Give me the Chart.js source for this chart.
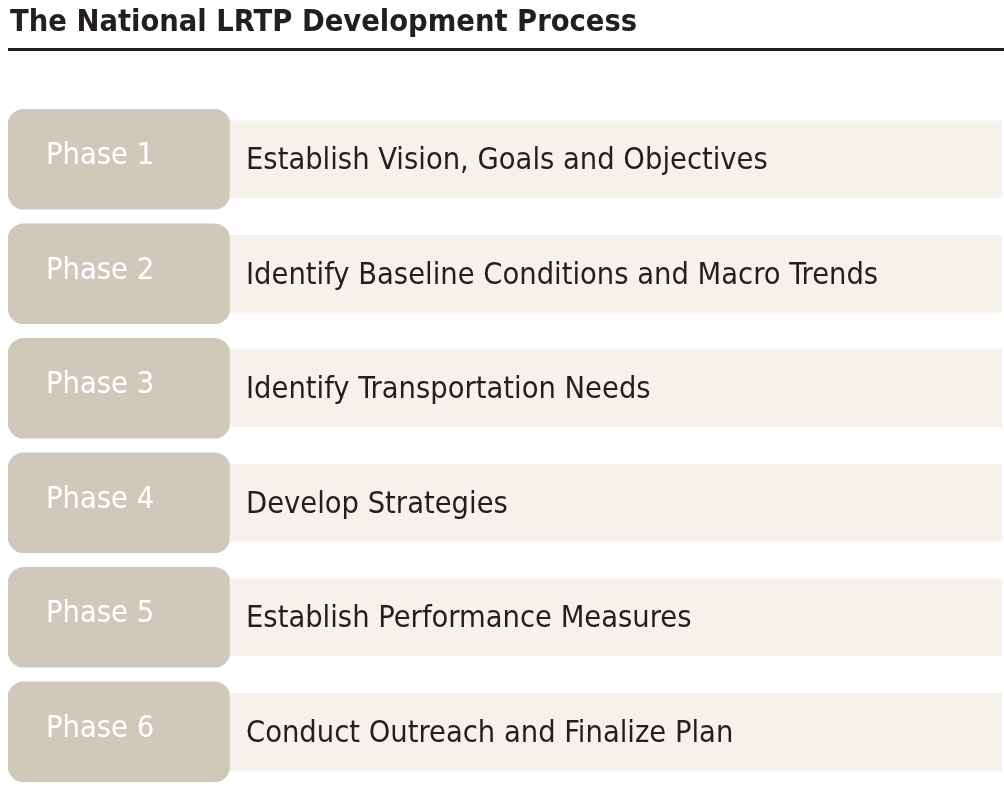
<!DOCTYPE html>
<html>
<head>
<meta charset="utf-8">
<script src="https://cdn.jsdelivr.net/npm/chart.js@4"></script>
<style>
  html, body { margin: 0; padding: 0; background: #fff; }
  #wrap { width: 1004px; height: 789px; }
</style>
</head>
<body>
<div id="wrap"><canvas id="chart" width="1004" height="789"></canvas></div>
<script>
const title = "The National LRTP Development Process";
const phases = ["Phase 1", "Phase 2", "Phase 3", "Phase 4", "Phase 5", "Phase 6"];
const steps = [
    "Establish Vision, Goals and Objectives",
    "Identify Baseline Conditions and Macro Trends",
    "Identify Transportation Needs",
    "Develop Strategies",
    "Establish Performance Measures",
    "Conduct Outreach and Finalize Plan"
];
const phaseSpan = [0, 222];
const stepSpan = [222, 994];

const FONT = '"Liberation Sans Narrow", "DejaVu Sans Condensed", "Roboto", sans-serif';

/* ================= LABELS + TITLE ================= */

const labelPlugin = {
    id: "labels",
    afterDatasetsDraw(chart) {
        const ctx = chart.ctx;
        const x = chart.scales.x;
        const y = chart.scales.y;
        ctx.save();
        ctx.textBaseline = "middle";
        ctx.textAlign = "left";
        ctx.font = "30.5px " + FONT;
        phases.forEach((p, i) => {
            const cy = y.getPixelForValue(i);
            ctx.fillStyle = "#ffffff";
            ctx.fillText(p, x.getPixelForValue(phaseSpan[0]) + 38, cy - 3);
            ctx.fillStyle = "#231f20";
            ctx.fillText(steps[i], x.getPixelForValue(stepSpan[0]) + 16, cy + 2);
        });
        ctx.font = "bold 30.5px " + FONT;
        ctx.fillStyle = "#231f20";
        ctx.fillText(title, 10, 23);
        ctx.fillRect(8, 48, 996, 3);
        ctx.restore();
    }
};

new Chart(document.getElementById("chart").getContext("2d"), {
    type: "bar",
    data: {
        labels: phases,
        datasets: [{
            data: phases.map(() => stepSpan),
            backgroundColor: "#f6f1ea",
            barThickness: 77,
            borderSkipped: false
        }, {
            data: phases.map(() => phaseSpan),
            backgroundColor: "#d0c9bb",
            barThickness: 100,
            borderRadius: 16,
            borderSkipped: false
        }]
    },
    options: {
        indexAxis: "y",
        responsive: false,
        animation: false,
        grouped: false,
        layout: { padding: { top: 102, left: 8, right: 2, bottom: 0 } },
        plugins: { legend: { display: false }, tooltip: { enabled: false } },
        scales: {
            x: { min: 0, max: 994, display: false },
            y: { display: false }
        }
    },
    plugins: [labelPlugin]
});
</script>
</body>
</html>
